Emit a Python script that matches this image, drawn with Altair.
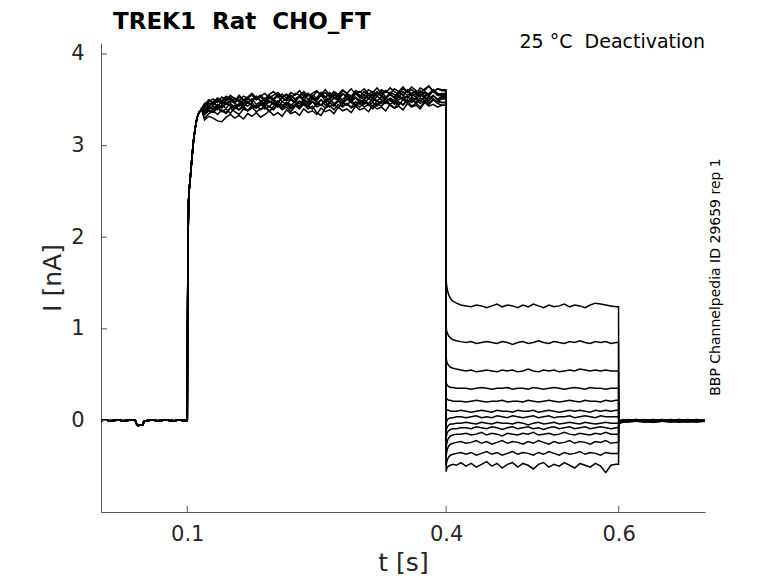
import altair as alt
import pandas as pd

# ---------------- data ----------------
sweep_ids = list(range(1, 14))

# holding baseline (shared by all sweeps), time in ms, current in nA
base_t_ms = [0, 5, 10, 15, 20, 25, 30, 35, 39.8, 40.6, 42.6, 45, 48.8, 49.6,
             55, 60, 65, 70, 75, 80, 85, 90, 95, 99.9]
base_i = [0.0, 0.005, -0.005, 0.0, 0.005, -0.005, 0.0, 0.005, 0.0, -0.03, -0.055,
          -0.052, -0.05, -0.005, 0.0, 0.005, -0.005, 0.0, 0.005, 0.0, -0.005, 0.005,
          0.0, 0.0]

# activation onset (shared)
rise_t_ms = [100, 100.3, 100.7, 101.5, 102.5, 103.5, 105.5, 107.3, 109, 111.2, 113.5, 116.5]
rise_i = [0.0, 1.0, 1.8, 2.4, 2.55, 2.65, 2.88, 3.06, 3.18, 3.3, 3.36, 3.4]

# activation plateau, ms and hundredths of nA, one list per sweep
plateau_t_ms = [120, 125, 130, 135, 140, 145, 150, 155, 160, 165, 170, 175, 180, 185,
                190, 195, 200, 205, 210, 215, 220, 225, 230, 235, 240, 245, 250, 255,
                260, 265, 270, 275, 280, 285, 290, 295, 300, 305, 310, 315, 320, 325,
                330, 335, 340, 345, 350, 355, 360, 365, 370, 375, 380, 385, 390, 395]
plateau_cnA = [
    [344,349,346,351,348,352,350,347,353,349,352,355,350,353,348,354,351,356,352,349,355,351,354,357,350,355,352,358,353,350,356,353,357,354,351,358,355,352,357,354,359,355,352,358,356,353,359,355,357,360,354,358,356,361,357,355],
    [336,340,343,339,344,341,346,342,339,345,343,347,341,344,346,342,348,344,341,347,345,343,349,345,342,348,346,350,344,347,343,349,346,351,347,344,350,347,345,351,348,346,352,349,346,350,353,348,351,347,352,349,354,350,348,351],
    [343,348,351,347,353,350,355,351,348,354,352,356,350,354,357,352,355,358,353,356,351,357,355,359,354,357,360,355,358,353,359,356,361,357,354,360,358,362,356,359,355,361,358,363,359,356,362,359,364,360,357,362,365,359,362,360],
    [330,335,338,334,339,336,341,337,334,340,338,342,337,340,343,338,341,344,339,342,337,343,341,345,340,343,336,333,341,344,339,345,342,346,341,344,347,342,345,340,346,343,348,344,341,347,345,349,343,346,342,348,345,350,346,344],
    [338,343,340,345,342,347,344,341,346,343,348,344,342,347,345,349,346,342,348,345,350,347,343,349,346,351,348,344,350,347,352,349,346,351,348,353,349,345,352,348,354,350,347,352,349,355,351,347,353,350,356,352,349,354,351,353],
    [346,342,348,351,345,349,353,347,350,346,352,349,354,348,351,355,350,347,353,356,351,348,354,352,357,351,349,355,352,358,353,350,356,354,349,357,353,359,355,351,357,354,360,356,352,358,355,361,356,353,359,357,354,360,357,356],
    [334,338,336,341,337,340,335,342,339,343,338,341,344,339,342,337,343,346,341,344,340,345,342,347,343,340,346,344,348,342,345,341,347,344,349,345,342,348,346,343,349,346,350,345,348,344,350,347,351,346,349,352,347,350,348,347],
    [340,344,347,343,348,345,349,346,343,350,347,351,345,348,352,347,350,346,353,349,351,347,354,350,348,353,351,355,349,352,356,351,348,354,352,357,353,350,355,352,358,354,351,356,353,359,355,352,357,355,360,354,357,359,355,354],
    [328,332,330,327,326,331,334,330,333,329,335,332,336,331,334,338,333,336,332,339,335,337,333,340,336,338,334,341,337,339,335,342,338,340,336,343,339,341,337,344,340,342,338,345,341,343,339,346,342,344,340,347,343,345,342,344],
    [345,350,347,352,349,354,351,348,355,350,353,357,352,355,350,356,359,353,356,352,358,355,360,354,357,353,359,356,361,355,358,354,360,357,362,356,359,355,361,358,363,357,360,356,362,359,364,358,361,357,363,360,365,359,362,361],
    [337,342,339,344,341,346,343,340,345,342,347,344,341,346,343,348,345,349,344,347,343,349,346,350,345,348,344,350,347,351,346,349,345,351,348,352,347,350,346,352,349,353,348,351,347,353,350,354,349,352,348,354,351,355,350,352],
    [342,346,344,349,346,350,347,352,348,345,351,348,353,349,346,352,350,354,348,351,355,350,353,349,356,352,350,355,353,357,351,354,350,356,353,358,352,355,351,357,354,359,353,356,352,358,355,360,354,357,353,359,356,361,355,357],
    [334,339,337,342,338,335,341,344,339,342,338,344,341,346,340,343,339,345,342,347,341,344,340,346,343,348,342,345,341,347,344,349,343,346,342,348,345,350,344,347,343,349,346,351,345,348,344,350,347,352,346,349,345,351,348,347],
]

# tail (deactivation) step, ms and hundredths of nA
tail_t_ms = [400, 400.5, 401.5, 403, 405, 408, 412, 417, 423, 429, 435, 441, 447, 453,
             459, 465, 471, 477, 483, 489, 495, 501, 507, 513, 519, 525, 531, 537, 543,
             549, 555, 561, 567, 573, 579, 585, 591, 597]
tail_cnA = [
    [155,148,142,137,133,130,128,126,125,124,126,125,123,125,127,124,126,125,123,126,124,127,125,123,126,124,125,127,124,126,125,123,126,128,127,126,125,124],
    [102,98,95,92,90,88,87,86,85,86,84,85,86,85,84,86,85,83,85,86,84,85,87,85,84,86,85,84,86,85,87,85,84,86,85,86,84,85],
    [69,65,62,60,58,57,56,55,54,55,53,54,55,54,53,55,54,55,53,54,56,54,53,55,54,55,53,54,55,54,56,55,54,55,54,55,54,54],
    [42,40,38,37,36,36,35,35,35,34,35,36,35,34,35,35,36,34,35,35,34,36,35,34,35,36,35,34,35,36,35,34,36,35,35,34,35,35],
    [25,24,23,22,22,21,21,21,20,21,22,21,20,21,21,22,20,21,21,20,22,21,20,21,22,21,20,21,22,21,20,22,21,21,20,22,21,22],
    [12,12,11,11,10,10,10,11,10,9,10,11,10,9,11,10,10,9,11,10,10,11,9,10,11,10,9,10,11,10,11,10,9,11,10,11,10,11],
    [-4,-1,1,2,3,3,4,4,3,4,5,3,4,3,5,4,3,5,4,3,4,5,3,4,5,3,4,4,5,3,4,5,4,3,5,4,4,4],
    [-12,-9,-7,-5,-4,-4,-3,-3,-2,-3,-4,-2,-3,-4,-2,-3,-3,-4,-2,-3,-5,-3,-2,-4,-3,-2,-4,-3,-2,-3,-4,-2,-3,-4,-3,-2,-3,-3],
    [-20,-16,-13,-11,-10,-9,-9,-8,-8,-9,-7,-8,-9,-7,-8,-10,-8,-7,-9,-8,-7,-9,-8,-10,-8,-7,-9,-8,-7,-9,-8,-7,-9,-8,-7,-8,-9,-8],
    [-30,-26,-22,-19,-17,-16,-15,-15,-14,-16,-15,-13,-16,-14,-15,-17,-14,-15,-16,-14,-15,-13,-16,-15,-14,-16,-15,-13,-15,-16,-14,-15,-16,-14,-15,-13,-15,-15],
    [-40,-35,-31,-28,-26,-25,-24,-23,-25,-24,-22,-25,-23,-26,-24,-22,-25,-23,-24,-26,-23,-25,-22,-24,-26,-23,-25,-24,-22,-25,-23,-24,-26,-23,-24,-22,-25,-24],
    [-50,-46,-43,-40,-38,-37,-36,-35,-37,-35,-38,-36,-34,-37,-35,-38,-36,-34,-37,-35,-36,-38,-35,-37,-34,-36,-38,-35,-37,-36,-34,-37,-35,-36,-38,-35,-36,-36],
    [-56,-53,-51,-50,-49,-48,-49,-46,-50,-47,-51,-48,-45,-50,-47,-52,-48,-46,-51,-47,-49,-53,-48,-46,-51,-48,-50,-46,-49,-52,-47,-49,-51,-47,-50,-57,-49,-48],
]

# return to holding, ms and hundredths of nA
post_t_ms = [600, 600.5, 602, 605, 610, 620, 630, 640, 650, 660, 670, 680, 690, 700]
post_cnA = [
    [-2,-3,-2,-1,-1,0,-1,0,-1,0,-1,0,-1,-1],
    [-1,-2,-2,-1,0,-1,0,-1,0,-1,0,-1,0,0],
    [-2,-4,-3,-2,-1,-1,-2,-1,-1,-2,-1,-1,-2,-1],
    [0,-1,-1,0,0,1,0,0,1,0,0,1,0,0],
    [-1,-2,-1,-1,-1,0,-1,-1,0,-1,-1,0,-1,-1],
    [-2,-3,-2,-2,-1,-1,-1,-2,-1,-1,-2,-1,-1,-1],
    [0,-1,0,0,1,0,0,1,0,0,1,0,0,0],
    [-1,-2,-2,-1,-1,-1,0,-1,-1,0,-1,-1,0,-1],
    [0,0,-1,0,0,1,0,0,0,1,0,0,1,0],
    [-1,-3,-2,-1,-2,-1,-1,-2,-1,-1,-1,-2,-1,-1],
    [0,-1,-1,0,-1,0,0,-1,0,0,-1,0,0,0],
    [-1,-2,-1,-1,0,-1,-1,0,-1,-1,0,-1,-1,-1],
    [1,0,0,1,0,0,1,0,0,0,1,0,0,0],
]

x_tick_values = [0.1, 0.4, 0.6]
y_tick_values = [0, 1, 2, 3, 4]
# non-breaking spaces keep the double spacing of the original text
title_text = "TREK1 \u00a0Rat \u00a0CHO_FT"
condition_text = "25 °C \u00a0Deactivation"
source_text = "BBP Channelpedia ID 29659 rep 1"

# ---------------- build the long table ----------------
rows = []
for k, sid in enumerate(sweep_ids):
    pts = list(zip(base_t_ms, base_i)) + list(zip(rise_t_ms, rise_i))
    pl = [(t, v / 100) for t, v in zip(plateau_t_ms, plateau_cnA[k])]
    pts += pl + [(399.8, pl[-1][1])]
    tl = [(t, v / 100) for t, v in zip(tail_t_ms, tail_cnA[k])]
    pts += tl + [(599.8, tl[-1][1])]
    pts += [(t, v / 100) for t, v in zip(post_t_ms, post_cnA[k])]
    for n, (t, v) in enumerate(pts):
        rows.append({"sweep": sid, "n": n, "t": t / 1000.0, "i": v})
df = pd.DataFrame(rows)

FONT = "DejaVu Sans"
AX = "#555555"
TXT = "#262626"
W, H = 604, 469

xscale = alt.Scale(domain=[0, 0.7], nice=False, zero=False)
yscale = alt.Scale(domain=[-1, 4.12], nice=False, zero=False)

xaxis = alt.Axis(values=x_tick_values, format=".1f", title="t [s]",
                 grid=False, ticks=False, tickSize=0, labelPadding=11,
                 labelFontSize=21, labelFont=FONT, labelColor=TXT,
                 domainColor=AX, domainWidth=1,
                 titleFontSize=25, titleFont=FONT, titleFontWeight="normal",
                 titleColor=TXT, titleBaseline="alphabetic", titleY=58)
yaxis = alt.Axis(values=y_tick_values, format="d", title="I [nA]",
                 grid=False, ticks=False, tickSize=0, labelPadding=17,
                 labelFontSize=21, labelFont=FONT, labelColor=TXT,
                 domainColor=AX, domainWidth=1,
                 titleFontSize=25, titleFont=FONT, titleFontWeight="normal",
                 titleColor=TXT, titleBaseline="alphabetic", titleX=-41,
                 titleAngle=270)

lines = alt.Chart(df).mark_line(color="black", strokeWidth=1.5).encode(
    x=alt.X("t:Q", scale=xscale, axis=xaxis, title="t [s]"),
    y=alt.Y("i:Q", scale=yscale, axis=yaxis, title="I [nA]"),
    detail="sweep:N",
    order="n:Q",
)

# inward tick marks
xt = alt.Chart(pd.DataFrame({"t": x_tick_values})).mark_rule(color=AX, strokeWidth=1).encode(
    x=alt.X("t:Q", scale=xscale, axis=xaxis, title="t [s]"),
    y=alt.value(H), y2=alt.value(H - 6),
)
yt = alt.Chart(pd.DataFrame({"i": y_tick_values})).mark_rule(color=AX, strokeWidth=1).encode(
    y=alt.Y("i:Q", scale=yscale, axis=yaxis, title="I [nA]"),
    x=alt.value(0), x2=alt.value(6),
)

title = alt.Chart(pd.DataFrame({"s": [title_text]})).mark_text(
    font=FONT, fontSize=23, fontWeight="bold", color="black",
    align="left", baseline="alphabetic").encode(
    text="s:N", x=alt.value(12), y=alt.value(-14))

cond = alt.Chart(pd.DataFrame({"s": [condition_text]})).mark_text(
    font=FONT, fontSize=19, color="black", align="right", baseline="alphabetic").encode(
    text="s:N", x=alt.value(604), y=alt.value(4.5))

src = alt.Chart(pd.DataFrame({"s": [source_text]})).mark_text(
    font=FONT, fontSize=14, color="black", align="center", baseline="middle",
    angle=270).encode(
    text="s:N", x=alt.value(615), y=alt.value(234))

chart = alt.layer(lines, xt, yt, title, cond, src).properties(
    width=W, height=H,
    autosize=alt.AutoSizeParams(type="none"),
    padding={"left": 93, "top": 35, "right": 55, "bottom": 63},
    background="white",
).configure(font=FONT).configure_view(stroke=None)

chart.save("out.html", embed_options={"renderer": "svg", "actions": False})
